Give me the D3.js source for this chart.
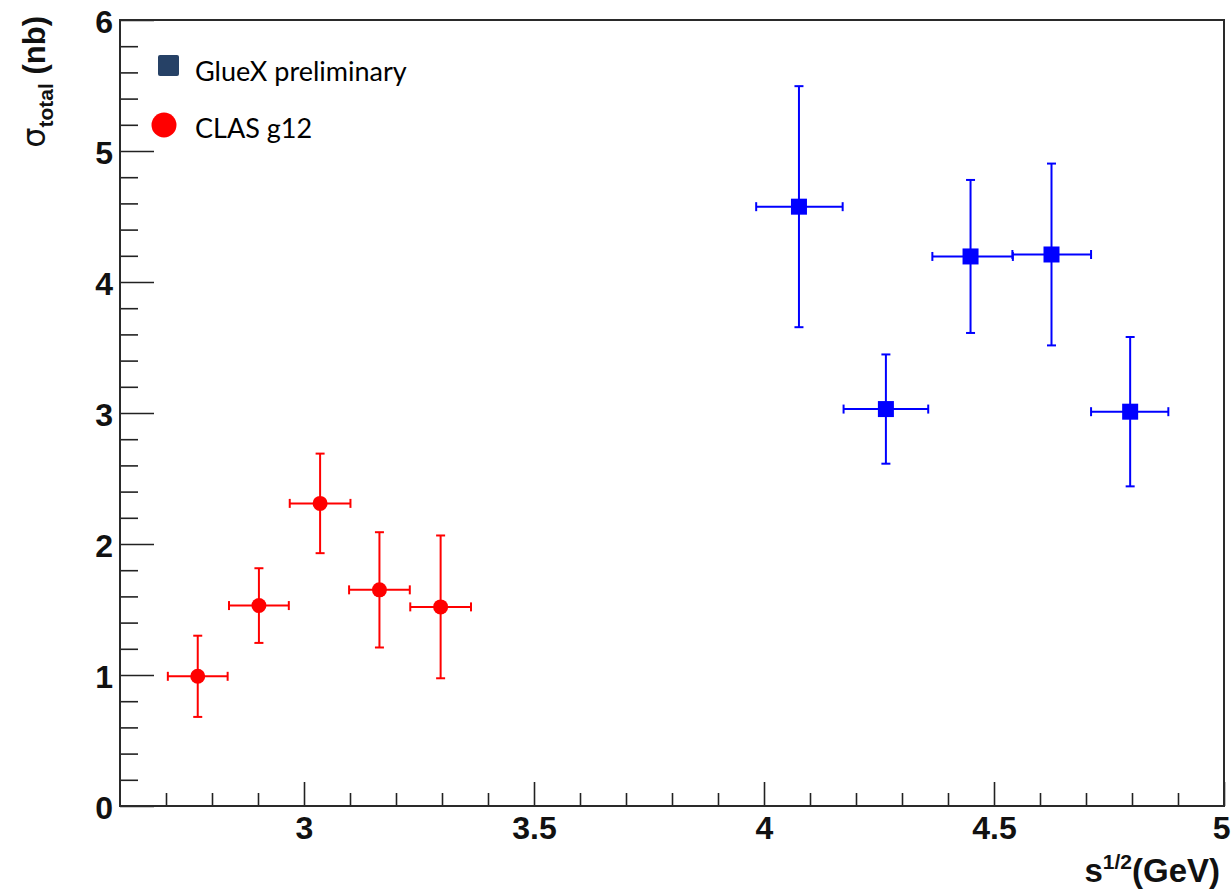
<!DOCTYPE html>
<html>
<head>
<meta charset="utf-8">
<script src="https://cdn.jsdelivr.net/npm/d3@7"></script>
<style>
  html, body { margin: 0; padding: 0; background: #fff; }
  svg { display: block; }
</style>
</head>
<body>
<svg id="chart" width="1231" height="890"></svg>
<script>
// Total cross section vs sqrt(s): GlueX preliminary and CLAS g12 points

// CLAS g12
const clasX    = [2.769, 2.902, 3.035, 3.164, 3.297];
const clasY    = [0.99, 1.53, 2.31, 1.65, 1.52];
const clasXErr = [0.065, 0.065, 0.066, 0.066, 0.066];
const clasYErr = [0.31, 0.285, 0.38, 0.44, 0.545];

// GlueX preliminary
const gluexX     = [4.076, 4.265, 4.449, 4.625, 4.796];
const gluexY     = [4.575, 3.03, 4.195, 4.21, 3.01];
const gluexXLow  = [0.093, 0.092, 0.083, 0.085, 0.085];
const gluexXHigh = [0.095, 0.092, 0.092, 0.086, 0.083];
const gluexYErr  = [0.92, 0.417, 0.584, 0.694, 0.57];

// Axis ticks
const xMajorTicks = [3, 3.5, 4, 4.5, 5];
const xMinorTicks = [2.7, 2.8, 2.9, 3.1, 3.2, 3.3, 3.4, 3.6, 3.7, 3.8, 3.9,
                     4.1, 4.2, 4.3, 4.4, 4.6, 4.7, 4.8, 4.9];
const xTickLabels = ["3", "3.5", "4", "4.5", "5"];
const yMajorTicks = [0, 1, 2, 3, 4, 5, 6];
const yMinorTicks = [0.2, 0.4, 0.6, 0.8, 1.2, 1.4, 1.6, 1.8, 2.2, 2.4, 2.6, 2.8,
                     3.2, 3.4, 3.6, 3.8, 4.2, 4.4, 4.6, 4.8, 5.2, 5.4, 5.6, 5.8];
const yTickLabels = ["0", "1", "2", "3", "4", "5", "6"];

const legendNames = ["GlueX preliminary", "CLAS g12"];

const clas = clasX.map((x, i) => ({ x, y: clasY[i], xl: clasXErr[i], xh: clasXErr[i], ye: clasYErr[i] }));
const gluex = gluexX.map((x, i) => ({ x, y: gluexY[i], xl: gluexXLow[i], xh: gluexXHigh[i], ye: gluexYErr[i] }));

const svg = d3.select("#chart");
const frame = { left: 120, right: 1224, top: 20, bottom: 806 };

const x = d3.scaleLinear().domain([2.6, 5.0]).range([frame.left, frame.right]);
const y = d3.scaleLinear().domain([0, 6]).range([frame.bottom, frame.top]);

const axisFont = "'Liberation Sans', Arial, Helvetica, sans-serif";

// X axis: major + minor ticks pointing inward
const gx = svg.append("g").attr("transform", `translate(0,${frame.bottom})`);
gx.call(d3.axisBottom(x).tickValues(xMinorTicks).tickSizeInner(-13).tickSizeOuter(0).tickFormat(""));
gx.call(g => g.select(".domain").remove());
const gxMaj = svg.append("g").attr("transform", `translate(0,${frame.bottom})`);
gxMaj.call(d3.axisBottom(x).tickValues(xMajorTicks).tickSizeInner(-24).tickSizeOuter(0)
  .tickPadding(10).tickFormat((d, i) => xTickLabels[i]));
gxMaj.select(".domain").remove();

// Y axis
const gy = svg.append("g").attr("transform", `translate(${frame.left},0)`);
gy.call(d3.axisLeft(y).tickValues(yMinorTicks).tickSizeInner(-18).tickSizeOuter(0).tickFormat(""));
gy.select(".domain").remove();
const gyMaj = svg.append("g").attr("transform", `translate(${frame.left},0)`);
gyMaj.call(d3.axisLeft(y).tickValues(yMajorTicks).tickSizeInner(-34).tickSizeOuter(0)
  .tickPadding(7).tickFormat((d, i) => yTickLabels[i]));
gyMaj.select(".domain").remove();

svg.selectAll(".tick line").attr("stroke", "#222").attr("stroke-width", 1.6);
svg.selectAll(".tick text")
  .attr("font-family", axisFont)
  .attr("font-weight", "bold")
  .attr("font-size", 32)
  .attr("fill", "#111");
gyMaj.selectAll(".tick text").attr("dy", "0.38em");
// last x label sits flush against the right edge
gxMaj.selectAll(".tick text").filter(d => d === 5).attr("text-anchor", "end").attr("dx", 6);

// Frame
svg.append("rect")
  .attr("x", frame.left).attr("y", frame.top)
  .attr("width", frame.right - frame.left).attr("height", frame.bottom - frame.top)
  .attr("fill", "none").attr("stroke", "#2a2a2a").attr("stroke-width", 2);

// Axis titles
const xTitle = svg.append("text")
  .attr("x", 1220).attr("y", 882)
  .attr("text-anchor", "end")
  .attr("font-family", axisFont).attr("font-weight", "bold").attr("font-size", 33)
  .attr("fill", "#111");
xTitle.append("tspan").text("s");
xTitle.append("tspan").attr("font-size", 21).attr("dy", -13).text("1/2");
xTitle.append("tspan").attr("dy", 13).text("(GeV)");

const yTitle = svg.append("text")
  .attr("transform", "translate(45,16) rotate(-90)")
  .attr("text-anchor", "end")
  .attr("font-family", axisFont).attr("font-size", 31)
  .attr("fill", "#111");
yTitle.append("tspan").attr("font-family", "'DejaVu Sans', sans-serif").attr("font-size", 32).text("σ");
yTitle.append("tspan").attr("font-size", 21).attr("font-weight", "bold").attr("dy", 8).text("total");
yTitle.append("tspan").attr("font-weight", "bold").attr("dy", -8).text(" (nb)");

// Error bars with end caps
function drawErrors(sel, data, color) {
  const cap = 4.5;
  const g = sel.append("g").attr("stroke", color).attr("stroke-width", 2).attr("fill", "none");
  data.forEach(d => {
    const cx = x(d.x), cy = y(d.y);
    const x0 = x(d.x - d.xl), x1 = x(d.x + d.xh);
    const y0 = y(d.y - d.ye), y1 = y(d.y + d.ye);
    g.append("line").attr("x1", x0).attr("x2", x1).attr("y1", cy).attr("y2", cy);
    g.append("line").attr("x1", cx).attr("x2", cx).attr("y1", y0).attr("y2", y1);
    g.append("line").attr("x1", x0).attr("x2", x0).attr("y1", cy - cap).attr("y2", cy + cap);
    g.append("line").attr("x1", x1).attr("x2", x1).attr("y1", cy - cap).attr("y2", cy + cap);
    g.append("line").attr("x1", cx - cap).attr("x2", cx + cap).attr("y1", y0).attr("y2", y0);
    g.append("line").attr("x1", cx - cap).attr("x2", cx + cap).attr("y1", y1).attr("y2", y1);
  });
}

drawErrors(svg, clas, "#ff0000");
drawErrors(svg, gluex, "#0000ff");

svg.append("g").selectAll("circle").data(clas).join("circle")
  .attr("cx", d => x(d.x)).attr("cy", d => y(d.y)).attr("r", 7.5)
  .attr("fill", "#ff0000");

svg.append("g").selectAll("rect").data(gluex).join("rect")
  .attr("x", d => x(d.x) - 8).attr("y", d => y(d.y) - 8)
  .attr("width", 16).attr("height", 16)
  .attr("fill", "#0000ff");

// Legend
const legendFont = "Lato, 'Open Sans', sans-serif";
const leg = svg.append("g");
leg.append("rect").attr("x", 158).attr("y", 55).attr("width", 21).attr("height", 21)
  .attr("rx", 2).attr("fill", "#264166");
leg.append("circle").attr("cx", 164).attr("cy", 125).attr("r", 12.5).attr("fill", "#ff0000");
leg.selectAll("text").data(legendNames).join("text")
  .attr("x", 195).attr("y", (d, i) => i === 0 ? 81 : 138)
  .attr("font-family", legendFont).attr("font-size", 27)
  .attr("fill", "#000")
  .text(d => d);
</script>
</body>
</html>
